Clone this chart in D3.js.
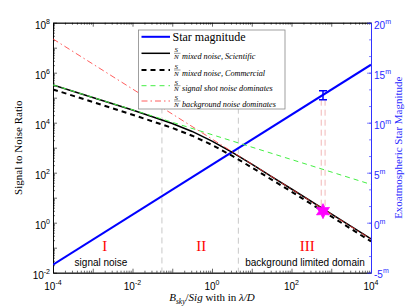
<!DOCTYPE html>
<html>
<head>
<meta charset="utf-8">
<script src="https://cdn.jsdelivr.net/npm/d3@7.9.0/dist/d3.min.js"></script>
<style>
  html, body { margin: 0; padding: 0; background: #fff; }
  svg { display: block; }
</style>
</head>
<body>
<script>
// ---- data ----
const ratioX = [1e-4, 1e-3, 1e-2, 1e-1, 0.316, 1, 3.16, 10, 31.6, 100, 1000, 1e4];
const snrScientific = [3.24e5, 1.02e5, 3.21e4, 9.3e3, 4.47e3, 1.84e3, 661, 219, 70.3, 22.3, 2.24, 0.224];
const snrCommercial = [2.14e5, 6.76e4, 2.09e4, 6.17e3, 3.02e3, 1.29e3, 479, 162, 53, 17.4, 1.78, 0.178];

const lineX = [1e-4, 1e4];
const snrShot = [3.24e5, 34];
const snrBackground = [2.24e7, 0.22];
const starMag = [-4.2, 15.8];

const measX = 620, measMag = 12.75, measErr = 0.45, measSnr = 2.9;
const measBandX = [560, 700];
const regionSplitX = [0.055, 4.6];
const regionSplitTop = [4.07e4, 1e5];

const regionNames = ['I', 'II', 'III'];
const regionX = [2e-3, 0.54, 250];

const xTickExp = [-4, -2, 0, 2, 4];
const yTickExp = [-2, 0, 2, 4, 6, 8];
const magTicks = [-5, 0, 5, 10, 15, 20];

const legendItems = [
  { kind: 'mag', text: 'Star magnitude', color: '#0000ff', dash: null, w: 2 },
  { kind: 'sn', text: 'mixed noise, Scientific', color: '#000', dash: null, w: 1.5 },
  { kind: 'sn', text: 'mixed noise, Commercial', color: '#000', dash: '5,4', w: 2 },
  { kind: 'sn', text: 'signal shot noise dominates', color: '#44ee44', dash: '5,4', w: 1 },
  { kind: 'sn', text: 'background noise dominates', color: '#ff3333', dash: '6,3,1.5,3', w: 0.8 },
];

// ---- layout ----
const W = 409, H = 307;
const plot = { left: 53, right: 371, top: 22.7, bottom: 272.7 };
const sans = '"Liberation Sans", Arial, Helvetica, sans-serif';
const serif = '"Liberation Serif", "Times New Roman", serif';
const blue = '#0000ff';
const axisBlue = '#2a2aff';

const svg = d3.select('body').append('svg').attr('width', W).attr('height', H);

const x = d3.scaleLog().domain([1e-4, 1e4]).range([plot.left, plot.right]);
const y = d3.scaleLog().domain([1e-2, 1e8]).range([plot.bottom, plot.top]);
const yMag = d3.scaleLinear().domain([-5, 20]).range([plot.bottom, plot.top]);

function decadeTicks(lo, hi) {
  const major = [], minor = [];
  for (let e = lo; e <= hi; e++) {
    major.push(Math.pow(10, e));
    if (e < hi) for (let k = 2; k <= 9; k++) minor.push(k * Math.pow(10, e));
  }
  return { major, minor };
}
const xt = decadeTicks(-4, 4);
const yt = decadeTicks(-2, 8);

function styleAxis(g, color) {
  g.selectAll('path').attr('stroke', color).attr('stroke-width', 0.8);
  g.selectAll('line').attr('stroke', color).attr('stroke-width', 0.6);
  g.selectAll('text').remove();
}

// ---- axes ----
[[xt.minor, -2], [xt.major, -4]].forEach(([vals, sz]) => {
  svg.append('g').attr('transform', `translate(0,${plot.bottom})`)
    .call(d3.axisBottom(x).tickValues(vals).tickSizeInner(sz).tickSizeOuter(0).tickFormat(''))
    .call(g => styleAxis(g, '#000'));
  svg.append('g').attr('transform', `translate(0,${plot.top})`)
    .call(d3.axisTop(x).tickValues(vals).tickSizeInner(sz).tickSizeOuter(0).tickFormat(''))
    .call(g => styleAxis(g, '#000'));
});
[[yt.minor, -2], [yt.major, -4]].forEach(([vals, sz]) => {
  svg.append('g').attr('transform', `translate(${plot.left},0)`)
    .call(d3.axisLeft(y).tickValues(vals).tickSizeInner(sz).tickSizeOuter(0).tickFormat(''))
    .call(g => styleAxis(g, '#000'));
});
const magMinor = d3.range(-5, 20.01, 5 / 3);
[[magMinor, -2], [magTicks, -4]].forEach(([vals, sz]) => {
  svg.append('g').attr('transform', `translate(${plot.right},0)`)
    .call(d3.axisRight(yMag).tickValues(vals).tickSizeInner(sz).tickSizeOuter(0).tickFormat(''))
    .call(g => styleAxis(g, axisBlue));
});

// tick labels
function powLabel(g, base, exp, px, py, anchor, color) {
  const t = g.append('text').attr('x', px).attr('y', py)
    .attr('text-anchor', anchor).attr('font-family', sans)
    .attr('font-size', 10).attr('fill', color);
  t.append('tspan').text(base);
  t.append('tspan').attr('dy', -5).attr('font-size', 7).text(exp);
  return t;
}
const labels = svg.append('g');
xTickExp.forEach(e => powLabel(labels, '10', e < 0 ? '-' + (-e) : String(e), x(Math.pow(10, e)), 290, 'middle', '#000'));
yTickExp.forEach(e => powLabel(labels, '10', e < 0 ? '-' + (-e) : String(e), plot.left - 3, y(Math.pow(10, e)) + 6, 'end', '#000'));
magTicks.forEach(m => powLabel(labels, m < 0 ? '-' + (-m) : String(m), 'm', plot.right + 3,
  yMag(m) + (m === -5 ? 5 : 6), 'start', axisBlue));

// axis titles
svg.append('text')
  .attr('transform', `translate(22,${(plot.top + plot.bottom) / 2}) rotate(-90)`)
  .attr('text-anchor', 'middle').attr('font-family', serif).attr('font-size', 11)
  .text('Signal to Noise Ratio');
svg.append('text')
  .attr('transform', `translate(402,${(plot.top + plot.bottom) / 2}) rotate(-90)`)
  .attr('text-anchor', 'middle').attr('font-family', serif).attr('font-size', 11)
  .attr('fill', axisBlue)
  .text('Exoatmospheric Star Magnitude');
const xt1 = svg.append('text').attr('x', 212).attr('y', 301)
  .attr('text-anchor', 'middle').attr('font-family', serif).attr('font-size', 11);
xt1.append('tspan').attr('font-style', 'italic').text('B');
xt1.append('tspan').attr('font-style', 'italic').attr('font-size', 7.5).attr('dy', 2.5).text('sky');
xt1.append('tspan').attr('dy', -2.5).text('/');
xt1.append('tspan').attr('font-style', 'italic').text('Sig');
xt1.append('tspan').text(' with in ');
xt1.append('tspan').attr('font-style', 'italic').text('λ/D');

// ---- plot content ----
const clip = svg.append('defs').append('clipPath').attr('id', 'plotclip');
clip.append('rect').attr('x', plot.left).attr('y', plot.top)
  .attr('width', plot.right - plot.left).attr('height', plot.bottom - plot.top);
const body = svg.append('g').attr('clip-path', 'url(#plotclip)');

// region separators
regionSplitX.forEach((v, i) => {
  body.append('line')
    .attr('x1', x(v)).attr('x2', x(v))
    .attr('y1', y(regionSplitTop[i])).attr('y2', plot.bottom)
    .attr('stroke', '#c8c8c8').attr('stroke-width', 1).attr('stroke-dasharray', '6,4');
});
measBandX.forEach(v => {
  body.append('line')
    .attr('x1', x(v)).attr('x2', x(v))
    .attr('y1', yMag(measMag - measErr)).attr('y2', y(measSnr))
    .attr('stroke', '#f2b8b8').attr('stroke-width', 1).attr('stroke-dasharray', '6,4');
});

const snrLine = d3.line().x(d => x(d[0])).y(d => y(d[1]));
const magLine = d3.line().x(d => x(d[0])).y(d => yMag(d[1]));

body.append('path').datum(d3.zip(lineX, starMag)).attr('d', magLine)
  .attr('fill', 'none').attr('stroke', blue).attr('stroke-width', 2);
body.append('path').datum(d3.zip(ratioX, snrScientific)).attr('d', snrLine)
  .attr('fill', 'none').attr('stroke', '#000').attr('stroke-width', 1.5);
body.append('path').datum(d3.zip(ratioX, snrCommercial)).attr('d', snrLine)
  .attr('fill', 'none').attr('stroke', '#000').attr('stroke-width', 2).attr('stroke-dasharray', '5,4');
body.append('path').datum(d3.zip(lineX, snrShot)).attr('d', snrLine)
  .attr('fill', 'none').attr('stroke', '#44ee44').attr('stroke-width', 1).attr('stroke-dasharray', '5,4');
body.append('path').datum(d3.zip(lineX, snrBackground)).attr('d', snrLine)
  .attr('fill', 'none').attr('stroke', '#ff3333').attr('stroke-width', 0.8).attr('stroke-dasharray', '6,3,1.5,3');

// measured magnitude error bar
const ex = x(measX);
const eg = body.append('g').attr('stroke', blue).attr('stroke-width', 1.5);
eg.append('line').attr('x1', ex).attr('x2', ex).attr('y1', yMag(measMag - measErr)).attr('y2', yMag(measMag + measErr));
[measMag - measErr, measMag + measErr].forEach(m =>
  eg.append('line').attr('x1', ex - 4).attr('x2', ex + 4).attr('y1', yMag(m)).attr('y2', yMag(m)));

// hexagram marker
const hexPts = d3.range(12).map(i => {
  const a = -Math.PI / 2 + i * Math.PI / 6;
  const r = i % 2 === 0 ? 7.5 : 4;
  return [ex + r * Math.cos(a), y(measSnr) + r * Math.sin(a)];
});
body.append('polygon').attr('points', hexPts.map(p => p.join(',')).join(' '))
  .attr('fill', '#ff00ff').attr('stroke', '#ff00ff').attr('stroke-width', 0.8);

// region annotations
regionNames.forEach((n, i) => {
  svg.append('text').attr('x', x(regionX[i])).attr('y', 251)
    .attr('text-anchor', 'middle').attr('font-family', serif).attr('font-size', 15)
    .attr('fill', '#ff0000').text(n);
});
svg.append('text').attr('x', 101).attr('y', 265.5).attr('text-anchor', 'middle')
  .attr('font-family', sans).attr('font-size', 10).text('signal noise');
svg.append('text').attr('x', 305).attr('y', 265.5).attr('text-anchor', 'middle')
  .attr('font-family', sans).attr('font-size', 10).text('background limited domain');

// ---- legend ----
const lg = svg.append('g');
lg.append('rect').attr('x', 138.5).attr('y', 30).attr('width', 146.5).attr('height', 79)
  .attr('fill', '#fff').attr('stroke', '#888').attr('stroke-width', 0.8);
const rowY = [36.8, 53.3, 70, 85.7, 101];
legendItems.forEach((it, i) => {
  const ry = rowY[i];
  lg.append('line').attr('x1', 141.5).attr('x2', 170).attr('y1', ry).attr('y2', ry)
    .attr('stroke', it.color).attr('stroke-width', it.w)
    .attr('stroke-dasharray', it.dash);
  if (it.kind === 'mag') {
    lg.append('text').attr('x', 172.5).attr('y', ry + 4).attr('font-family', serif)
      .attr('font-size', 12).text(it.text);
  } else {
    lg.append('text').attr('x', 174.5).attr('y', ry - 1.2).attr('font-family', serif)
      .attr('font-style', 'italic').attr('font-size', 7).text('S');
    lg.append('line').attr('x1', 174).attr('x2', 180.5).attr('y1', ry).attr('y2', ry)
      .attr('stroke', '#000').attr('stroke-width', 0.4);
    lg.append('text').attr('x', 174).attr('y', ry + 5.6).attr('font-family', serif)
      .attr('font-style', 'italic').attr('font-size', 7).text('N');
    lg.append('text').attr('x', 182).attr('y', ry + 5.6).attr('font-family', serif)
      .attr('font-style', 'italic').attr('font-size', 8.2).text(it.text);
  }
});
</script>
</body>
</html>
